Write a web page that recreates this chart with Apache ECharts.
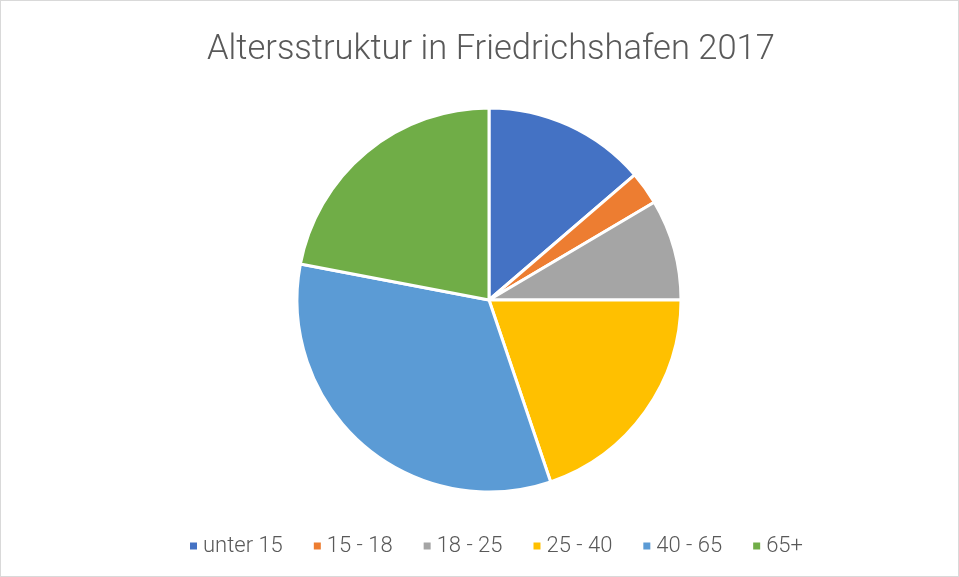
<!DOCTYPE html>
<html>
<head>
<meta charset="utf-8">
<script src="https://cdn.jsdelivr.net/npm/echarts@6/dist/echarts.min.js"></script>
<style>
  html, body { margin: 0; padding: 0; background: #fff; }
  #chart { width: 957px; height: 575px; border: 1px solid #d9d9d9; }
</style>
</head>
<body>
<div id="chart"></div>
<script>
// Altersgruppen und Anteile (Prozent, aus dem Bild geschätzt)
const categories = ['unter 15', '15 - 18', '18 - 25', '25 - 40', '40 - 65', '65+'];
const shares = [13.7, 2.8, 8.5, 19.8, 33.2, 22.0];
const colors = ['#4472c4', '#ed7d31', '#a5a5a5', '#ffc000', '#5b9bd5', '#70ad47'];

const chart = echarts.init(document.getElementById('chart'));

const option = {
    color: colors,
    title: {
        text: 'Altersstruktur in Friedrichshafen 2017',
        left: 201,
        top: 27,
        textStyle: {
            fontFamily: 'Roboto',
            fontWeight: 300,
            fontSize: 34.5,
            color: '#595959'
        }
    },
    legend: {
        bottom: 14,
        left: 182,
        itemWidth: 9,
        itemHeight: 9,
        itemGap: 29,
        icon: 'rect',
        textStyle: {
            fontFamily: 'Roboto',
            fontWeight: 300,
            fontSize: 22,
            color: '#595959'
        },
        data: categories
    },
    series: [
        {
            type: 'pie',
            center: [488, 299],
            radius: 192,
            startAngle: 90,
            clockwise: true,
            label: { show: false },
            labelLine: { show: false },
            emphasis: { disabled: true },
            itemStyle: {
                borderColor: '#ffffff',
                borderWidth: 3
            },
            data: categories.map((name, i) => ({ name: name, value: shares[i] }))
        }
    ]
};

chart.setOption(option);
</script>
</body>
</html>
